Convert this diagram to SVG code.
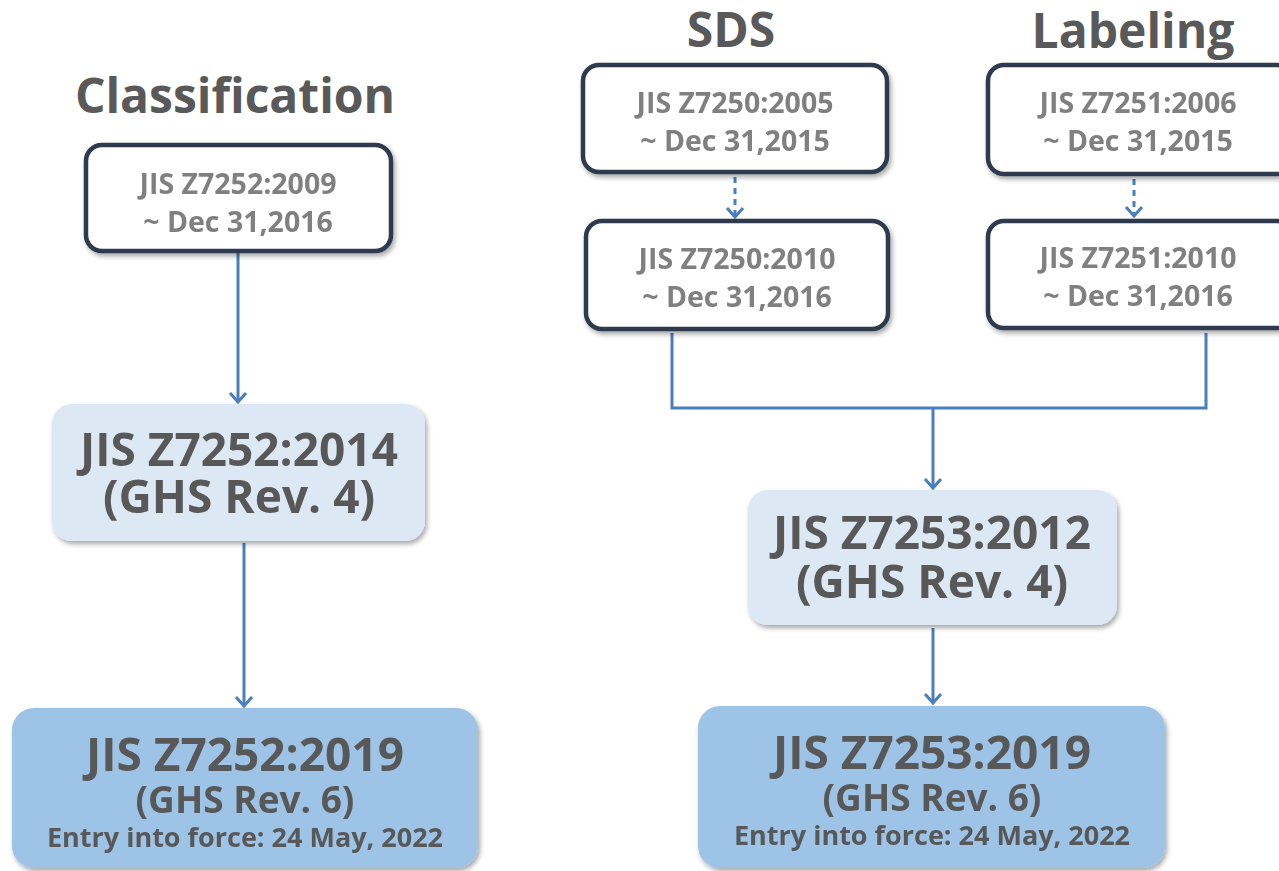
<svg xmlns="http://www.w3.org/2000/svg" width="1279" height="871" viewBox="0 0 1279 871">
<defs>
<style>
.t{font-family:"Open Sans","Liberation Sans",sans-serif;font-weight:bold;text-anchor:middle}
.title{font-size:48px;fill:#595959}
.old{fill:#fff;stroke:#2f3b50;stroke-width:4.5}
.ot{font-size:28.5px;fill:#808080}
.mid{fill:#dde8f5}
.new{fill:#9dc3e6}
.bt{font-size:46px;fill:#595959}
.st{font-size:37px;fill:#595959}
.et{font-size:27px;fill:#595959}
.c{fill:none;stroke:#4a7ebf;stroke-width:3}
.d{stroke-dasharray:6 5}
</style>
<marker id="ah" viewBox="0 0 20 20" refX="18" refY="10" markerWidth="20" markerHeight="20" markerUnits="userSpaceOnUse" orient="auto">
<path d="M9 2 L18 10 L9 18" fill="none" stroke="#4a7ebf" stroke-width="3"/>
</marker>
<filter id="sh" x="-10%" y="-10%" width="120%" height="130%">
<feDropShadow dx="2" dy="3" stdDeviation="2.5" flood-color="#000" flood-opacity="0.35"/>
</filter>
</defs>
<rect width="1279" height="871" fill="#fff"/>
<text class="t title" x="235" y="113">Classification</text>
<text class="t title" x="731" y="47">SDS</text>
<text class="t title" x="1133" y="48">Labeling</text>
<g id="connectors">
<path class="c" d="M238 253 V402" marker-end="url(#ah)"/>
<path class="c" d="M244 543 V706" marker-end="url(#ah)"/>
<path class="c d" d="M735 177 V217" marker-end="url(#ah)"/>
<path class="c d" d="M1134 179 V216" marker-end="url(#ah)"/>
<path class="c" d="M672 333 V408 H1206 V333"/>
<path class="c" d="M933 408 V488" marker-end="url(#ah)"/>
<path class="c" d="M933 628 V703" marker-end="url(#ah)"/>
</g>
<g id="n-z7252-2009" filter="url(#sh)">
<rect class="old" x="86" y="145" width="305" height="106" rx="16"/>
<text class="t ot" x="238" y="194">JIS Z7252:2009</text>
<text class="t ot" x="238" y="232">~ Dec 31,2016</text>
</g>
<g id="n-z7250-2005" filter="url(#sh)">
<rect class="old" x="583" y="65" width="304" height="107" rx="16"/>
<text class="t ot" x="735" y="113">JIS Z7250:2005</text>
<text class="t ot" x="735" y="151">~ Dec 31,2015</text>
</g>
<g id="n-z7250-2010" filter="url(#sh)">
<rect class="old" x="586" y="221" width="302" height="108" rx="16"/>
<text class="t ot" x="737" y="269">JIS Z7250:2010</text>
<text class="t ot" x="737" y="307">~ Dec 31,2016</text>
</g>
<g id="n-z7251-2006" filter="url(#sh)">
<rect class="old" x="988" y="65" width="305" height="109" rx="16"/>
<text class="t ot" x="1138" y="113">JIS Z7251:2006</text>
<text class="t ot" x="1138" y="151">~ Dec 31,2015</text>
</g>
<g id="n-z7251-2010" filter="url(#sh)">
<rect class="old" x="988" y="221" width="305" height="107" rx="16"/>
<text class="t ot" x="1138" y="268">JIS Z7251:2010</text>
<text class="t ot" x="1138" y="306">~ Dec 31,2016</text>
</g>
<g id="n-z7252-2014" filter="url(#sh)">
<rect class="mid" x="52" y="404" width="373" height="137" rx="20"/>
<text class="t bt" x="239" y="466">JIS Z7252:2014</text>
<text class="t bt" x="239" y="513">(GHS Rev. 4)</text>
</g>
<g id="n-z7253-2012" filter="url(#sh)">
<rect class="mid" x="748" y="490" width="369" height="135" rx="20"/>
<text class="t bt" x="932" y="549">JIS Z7253:2012</text>
<text class="t bt" x="932" y="598">(GHS Rev. 4)</text>
</g>
<g id="n-z7252-2019" filter="url(#sh)">
<rect class="new" x="12" y="708" width="466" height="160" rx="22"/>
<text class="t bt" x="245" y="771">JIS Z7252:2019</text>
<text class="t st" x="245" y="813">(GHS Rev. 6)</text>
<text class="t et" x="245" y="847">Entry into force: 24 May, 2022</text>
</g>
<g id="n-z7253-2019" filter="url(#sh)">
<rect class="new" x="698" y="706" width="467" height="162" rx="22"/>
<text class="t bt" x="932" y="769">JIS Z7253:2019</text>
<text class="t st" x="932" y="811">(GHS Rev. 6)</text>
<text class="t et" x="932" y="845">Entry into force: 24 May, 2022</text>
</g>
</svg>
